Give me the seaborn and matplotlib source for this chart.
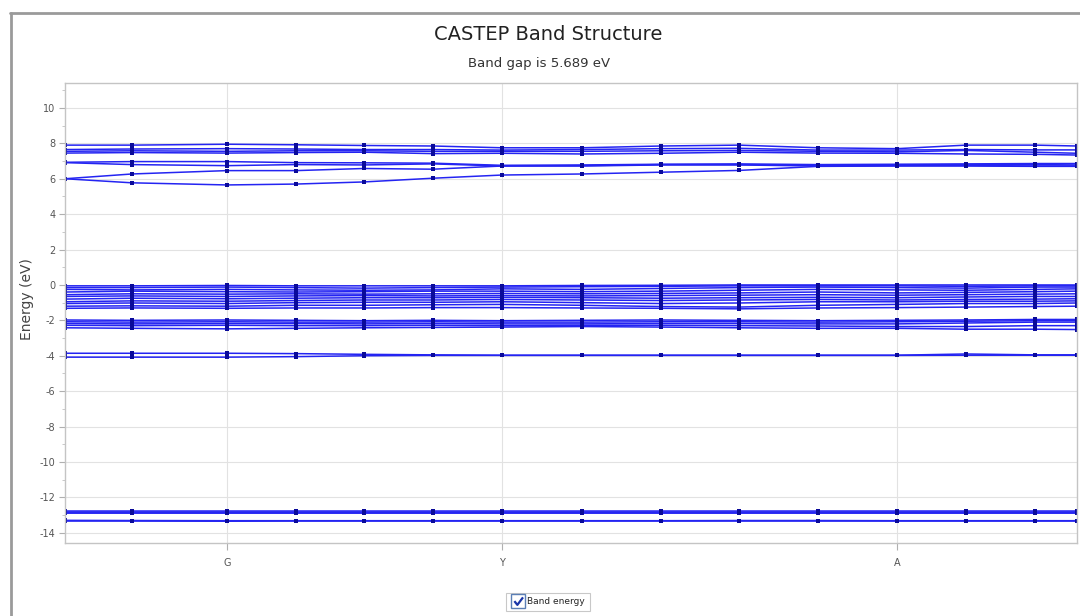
import numpy as np
import pandas as pd
import seaborn as sns
import matplotlib.pyplot as plt
from matplotlib.lines import Line2D
from matplotlib.path import Path
from matplotlib.legend_handler import HandlerTuple
from matplotlib.ticker import AutoMinorLocator

# ---------------- data ----------------
k_dist = [0.000, 0.067, 0.162, 0.231, 0.299, 0.368, 0.437, 0.517,
          0.596, 0.674, 0.753, 0.832, 0.901, 0.970, 1.012]
k_label_pos = [0.162, 0.437, 0.832]
k_labels = ["G", "Y", "A"]
y_ticks = list(range(-14, 11, 2))

title = "CASTEP Band Structure"
subtitle = "Band gap is 5.689 eV"
legend_label = "Band energy"

# conduction bands
c1 = [6.00, 5.77, 5.65, 5.70, 5.82, 6.03, 6.21, 6.27, 6.37, 6.47, 6.70, 6.72, 6.72, 6.70, 6.70]
c2 = [6.00, 6.27, 6.46, 6.46, 6.58, 6.54, 6.72, 6.72, 6.78, 6.78, 6.72, 6.74, 6.75, 6.72, 6.72]
c3 = [6.91, 6.80, 6.74, 6.80, 6.78, 6.84, 6.72, 6.74, 6.80, 6.80, 6.76, 6.78, 6.80, 6.80, 6.78]
c4 = [6.93, 6.97, 6.97, 6.91, 6.90, 6.88, 6.76, 6.78, 6.82, 6.84, 6.80, 6.82, 6.84, 6.86, 6.86]
c5 = [7.45, 7.48, 7.45, 7.48, 7.50, 7.42, 7.44, 7.40, 7.44, 7.50, 7.45, 7.44, 7.40, 7.38, 7.34]
c6 = [7.55, 7.58, 7.55, 7.58, 7.58, 7.55, 7.55, 7.55, 7.58, 7.60, 7.55, 7.52, 7.60, 7.50, 7.44]
c7 = [7.65, 7.68, 7.70, 7.68, 7.65, 7.65, 7.62, 7.65, 7.70, 7.72, 7.62, 7.62, 7.65, 7.63, 7.63]
c8 = [7.90, 7.90, 7.95, 7.92, 7.88, 7.85, 7.75, 7.75, 7.85, 7.90, 7.75, 7.70, 7.90, 7.90, 7.85]

# upper valence group
v1 = [-0.05, -0.05, -0.03, -0.05, -0.05, -0.05, -0.05, -0.03, -0.02, 0.00, 0.00, 0.00, 0.00, 0.00, 0.00]
v2 = [-0.15, -0.15, -0.12, -0.15, -0.18, -0.15, -0.12, -0.10, -0.08, -0.05, -0.05, -0.05, -0.08, -0.05, -0.05]
v3 = [-0.25, -0.28, -0.25, -0.28, -0.30, -0.28, -0.22, -0.25, -0.20, -0.15, -0.12, -0.15, -0.18, -0.12, -0.12]
v4 = [-0.40, -0.35, -0.38, -0.40, -0.38, -0.35, -0.35, -0.38, -0.35, -0.30, -0.25, -0.28, -0.30, -0.25, -0.22]
v5 = [-0.55, -0.50, -0.52, -0.50, -0.52, -0.50, -0.48, -0.50, -0.48, -0.45, -0.40, -0.45, -0.42, -0.38, -0.35]
v6 = [-0.65, -0.62, -0.65, -0.62, -0.60, -0.62, -0.60, -0.62, -0.60, -0.58, -0.55, -0.58, -0.55, -0.52, -0.50]
v7 = [-0.80, -0.75, -0.78, -0.75, -0.72, -0.72, -0.70, -0.72, -0.75, -0.72, -0.70, -0.72, -0.68, -0.65, -0.65]
v8 = [-0.95, -0.90, -0.92, -0.88, -0.85, -0.85, -0.82, -0.85, -0.88, -0.85, -0.82, -0.85, -0.82, -0.80, -0.78]
v9 = [-1.05, -1.02, -1.05, -1.00, -0.98, -0.98, -0.95, -1.00, -1.05, -1.02, -0.95, -0.95, -0.92, -0.92, -0.90]
v10 = [-1.20, -1.18, -1.20, -1.15, -1.15, -1.12, -1.10, -1.15, -1.22, -1.25, -1.15, -1.10, -1.05, -1.05, -1.02]
v11 = [-1.32, -1.30, -1.32, -1.30, -1.30, -1.28, -1.28, -1.30, -1.32, -1.35, -1.30, -1.28, -1.25, -1.22, -1.20]

# second valence group
w1 = [-1.98, -2.00, -1.98, -2.00, -2.02, -2.00, -2.02, -2.00, -1.98, -2.00, -2.02, -2.00, -1.98, -1.95, -1.95]
w2 = [-2.08, -2.10, -2.08, -2.10, -2.10, -2.08, -2.10, -2.10, -2.08, -2.08, -2.10, -2.08, -2.05, -2.02, -2.02]
w3 = [-2.18, -2.20, -2.18, -2.18, -2.20, -2.18, -2.20, -2.20, -2.18, -2.18, -2.20, -2.20, -2.15, -2.10, -2.10]
w4 = [-2.28, -2.30, -2.28, -2.30, -2.30, -2.28, -2.30, -2.28, -2.28, -2.30, -2.32, -2.35, -2.35, -2.30, -2.30]
w5 = [-2.42, -2.45, -2.48, -2.45, -2.42, -2.40, -2.38, -2.35, -2.38, -2.42, -2.45, -2.45, -2.50, -2.50, -2.52]

# -4 eV pair
u1 = [-3.86, -3.86, -3.86, -3.88, -3.92, -3.95, -3.97, -3.97, -3.97, -3.97, -3.97, -3.97, -3.90, -3.95, -3.95]
u2 = [-4.08, -4.08, -4.08, -4.05, -4.00, -3.98, -3.98, -3.98, -3.98, -3.98, -3.98, -3.98, -3.97, -3.97, -3.97]

# deep bands
s1 = [-12.78, -12.78, -12.78, -12.78, -12.78, -12.78, -12.78, -12.78, -12.78, -12.78, -12.78, -12.78, -12.78, -12.78, -12.78]
s2 = [-12.82, -12.82, -12.82, -12.82, -12.82, -12.82, -12.82, -12.82, -12.82, -12.82, -12.82, -12.82, -12.82, -12.82, -12.82]
s3 = [-12.86, -12.86, -12.86, -12.86, -12.86, -12.86, -12.86, -12.86, -12.86, -12.86, -12.86, -12.86, -12.86, -12.86, -12.86]
s4 = [-12.90, -12.90, -12.90, -12.90, -12.90, -12.90, -12.90, -12.90, -12.90, -12.90, -12.90, -12.90, -12.90, -12.90, -12.90]
s5 = [-13.30, -13.31, -13.32, -13.32, -13.32, -13.32, -13.32, -13.32, -13.32, -13.31, -13.31, -13.32, -13.32, -13.32, -13.32]
s6 = [-13.34, -13.34, -13.35, -13.34, -13.34, -13.34, -13.34, -13.34, -13.34, -13.34, -13.34, -13.34, -13.34, -13.34, -13.34]

bands = [c1, c2, c3, c4, c5, c6, c7, c8,
         v1, v2, v3, v4, v5, v6, v7, v8, v9, v10, v11,
         w1, w2, w3, w4, w5, u1, u2, s1, s2, s3, s4, s5, s6]

rows = []
for b, vals in enumerate(bands):
    for k, e in zip(k_dist, vals):
        rows.append({"band": b, "k": k, "E": e})
df = pd.DataFrame(rows)

LINE_BLUE = "#2424f2"
MARK_BLUE = "#0a0a9a"

# ---------------- figure ----------------
sns.set_theme(style="white")
plt.rcParams['font.family'] = ['DejaVu Sans']

fig = plt.figure(figsize=(10.8, 6.16), dpi=100)
ax = fig.add_axes([65 / 1080, 1 - 543 / 616, 1012 / 1080, 460 / 616])

sns.lineplot(data=df, x="k", y="E", hue="band",
             palette=[LINE_BLUE] * len(bands), estimator=None, sort=False,
             linewidth=1.1, marker="s", markersize=2.2, markeredgewidth=0,
             markeredgecolor=MARK_BLUE, legend=False, ax=ax)
for ln in ax.get_lines():
    ln.set_markerfacecolor(MARK_BLUE)
    ln.set_markeredgecolor(MARK_BLUE)

ax.set_xlim(k_dist[0], k_dist[-1])
ax.set_ylim(-14.58, 11.41)
ax.set_yticks(y_ticks)
ax.set_yticklabels([str(t) for t in y_ticks])
ax.yaxis.set_minor_locator(AutoMinorLocator(2))
ax.set_xticks(k_label_pos)
ax.set_xticklabels(k_labels)

ax.grid(True, which="major", color="#e2e2e2", linewidth=0.8)
ax.set_axisbelow(True)
for sp in ax.spines.values():
    sp.set_color("#c4c4c4")
    sp.set_linewidth(1.0)

ax.tick_params(axis="y", which="major", direction="out", length=4, width=0.8,
               color="#b0b0b0", labelsize=7, labelcolor="#555555", pad=3, left=True)
ax.tick_params(axis="y", which="minor", direction="out", length=2, width=0.6,
               color="#c0c0c0", left=True)
ax.tick_params(axis="x", which="major", direction="out", length=5, width=0.8,
               color="#b0b0b0", labelsize=7, labelcolor="#555555", pad=6, bottom=True)

ax.set_xlabel("")
ax.set_ylabel("Energy (eV)", fontsize=10, color="#444444")
ax.yaxis.set_label_coords(-0.031, 0.53)

fig.text(548 / 1080, 1 - 34 / 616, title, ha="center", va="center",
         fontsize=14, color="#222222")
fig.text(539 / 1080, 1 - 63 / 616, subtitle, ha="center", va="center",
         fontsize=9.5, color="#333333")

# window frame lines
fig.add_artist(Line2D([10 / 1080, 1.0], [1 - 13 / 616, 1 - 13 / 616],
                      transform=fig.transFigure, color="#9a9a9a", lw=2))
fig.add_artist(Line2D([11 / 1080, 11 / 1080], [0.0, 1 - 13 / 616],
                      transform=fig.transFigure, color="#9a9a9a", lw=2))

# legend with checkbox
check_path = Path([(-0.55, 0.05), (-0.15, -0.45), (0.6, 0.55)],
                  [Path.MOVETO, Path.LINETO, Path.LINETO])
box = Line2D([], [], marker="s", markersize=9.5, markerfacecolor="white",
             markeredgecolor="#5b7fb5", markeredgewidth=1.0, linestyle="none")
chk = Line2D([], [], marker=check_path, markersize=6.5, markerfacecolor="none",
             markeredgecolor="#1a36a8", markeredgewidth=1.6, linestyle="none")
leg = fig.legend(handles=[(box, chk)], labels=[legend_label], loc="center",
                 bbox_to_anchor=(548 / 1080, 1 - 602 / 616),
                 handler_map={tuple: HandlerTuple(ndivide=1)},
                 fontsize=6.5, frameon=True, fancybox=False,
                 handlelength=1.5, handletextpad=0.3, borderpad=0.55)
leg.get_frame().set_edgecolor("#bbbbbb")
leg.get_frame().set_linewidth(0.8)

fig.savefig("out.png", dpi=100)
